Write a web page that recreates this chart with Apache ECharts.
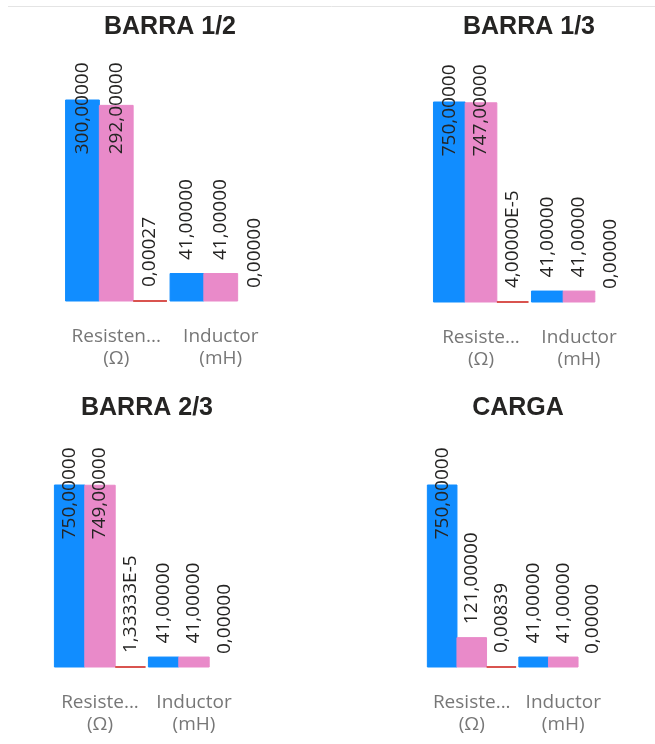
<!DOCTYPE html>
<html>
<head>
<meta charset="utf-8">
<script src="https://cdn.jsdelivr.net/npm/echarts@6/dist/echarts.min.js"></script>
<style>
  html, body { margin: 0; padding: 0; background: #ffffff; }
  #chart { width: 655px; height: 744px; }
</style>
</head>
<body>
<div id="chart"></div>
<script>
// Panel titles
const titles = ['BARRA 1/2', 'BARRA 1/3', 'BARRA 2/3', 'CARGA'];

// Category labels printed under each panel
const categories = [
  ['Resisten...\n(Ω)', 'Inductor\n(mH)'],
  ['Resiste...\n(Ω)', 'Inductor\n(mH)'],
  ['Resiste...\n(Ω)', 'Inductor\n(mH)'],
  ['Resiste...\n(Ω)', 'Inductor\n(mH)']
];

// Values per panel: [resistencia, inductor]
const serieAzul = [[300, 41], [750, 41], [750, 41], [750, 41]];
const serieRosa = [[292, 41], [747, 41], [749, 41], [121, 41]];
const serieRoja = [[0.00027, 0], [0.00004, 0], [0.0000133333, 0], [0.00839, 0]];

const COLORS = ['#118DFF', '#E98AC9', '#D9534F'];
const LABEL_SIZE = 19;
const LABEL_FAMILY = '"Open Sans"';
const LABEL_GAP = 13;     // space between bar top and its value label
const LABEL_CEIL = 37;    // how far above the plot top a label may reach

// Plot rectangles of the four panels
const panels = [
  { left: 64,  top: 100, width: 209, height: 201, tx: 170, ty: 15 },
  { left: 432, top: 102, width: 196, height: 200, tx: 529, ty: 15 },
  { left: 53,  top: 485, width: 188, height: 182, tx: 147, ty: 396 },
  { left: 426, top: 485, width: 183, height: 182, tx: 518, ty: 396 }
];

const measure = document.createElement('canvas').getContext('2d');
measure.font = LABEL_SIZE + 'px ' + LABEL_FAMILY;

function fmt(v) {
  if (v !== 0 && Math.abs(v) < 1e-4) {
    return v.toExponential(5).replace('.', ',').replace('e', 'E').replace('+', '');
  }
  return v.toFixed(5).replace('.', ',');
}

// Value label sits above the bar, but never rises past the panel's ceiling
function itemFor(v, max, p, extraStyle) {
  const len = measure.measureText(fmt(v)).width;
  const barTop = p.top + p.height - (v / max) * p.height;
  let anchor = barTop - LABEL_GAP;
  const ceil = p.top - LABEL_CEIL;
  if (anchor - len < ceil) anchor = ceil + len;
  const item = { value: v, label: { position: ['50%', anchor - barTop] } };
  if (extraStyle) item.itemStyle = extraStyle;
  return item;
}

const grid = [], xAxis = [], yAxis = [], title = [], series = [];

panels.forEach((p, i) => {
  const groups = [serieAzul[i], serieRosa[i], serieRoja[i]];
  const max = Math.max(...groups.flat());

  grid.push({ left: p.left, top: p.top, width: p.width, height: p.height, containLabel: false });
  title.push({
    text: titles[i], left: p.tx, top: p.ty, textAlign: 'center', padding: 0,
    textStyle: { fontFamily: '"Liberation Sans"', fontWeight: 'bold', fontSize: 25, color: '#252423' }
  });
  xAxis.push({
    type: 'category', gridIndex: i, data: categories[i],
    axisLine: { show: false }, axisTick: { show: false }, splitLine: { show: false },
    axisLabel: {
      interval: 0, margin: 25, fontSize: 19, lineHeight: 22,
      fontFamily: '"Open Sans"', color: '#777777', align: 'center'
    }
  });
  yAxis.push({ type: 'value', gridIndex: i, min: 0, max: max, show: false, splitLine: { show: false } });

  groups.forEach((vals, s) => {
    series.push({
      type: 'bar', name: 'Serie ' + (s + 1), xAxisIndex: i, yAxisIndex: i,
      barGap: '0%', barCategoryGap: '3%',
      itemStyle: { color: COLORS[s], borderColor: COLORS[s] },
      label: {
        show: true, rotate: 90, align: 'left', verticalAlign: 'middle',
        fontSize: LABEL_SIZE, fontFamily: LABEL_FAMILY, color: '#252423',
        formatter: (prm) => fmt(prm.value)
      },
      data: vals.map(v => itemFor(v, max, p,
        s === 2 ? { borderWidth: v > 0 ? 2 : 0 } : null))
    });
  });
});

const chart = echarts.init(document.getElementById('chart'), null, { renderer: 'canvas' });
chart.setOption({
  backgroundColor: '#ffffff',
  animation: false,
  title, grid, xAxis, yAxis, series,
  graphic: [{
    type: 'line', shape: { x1: 8, y1: 6.5, x2: 655, y2: 6.5 },
    style: { stroke: '#e4e4e4', lineWidth: 1 }, silent: true
  }]
});
</script>
</body>
</html>
